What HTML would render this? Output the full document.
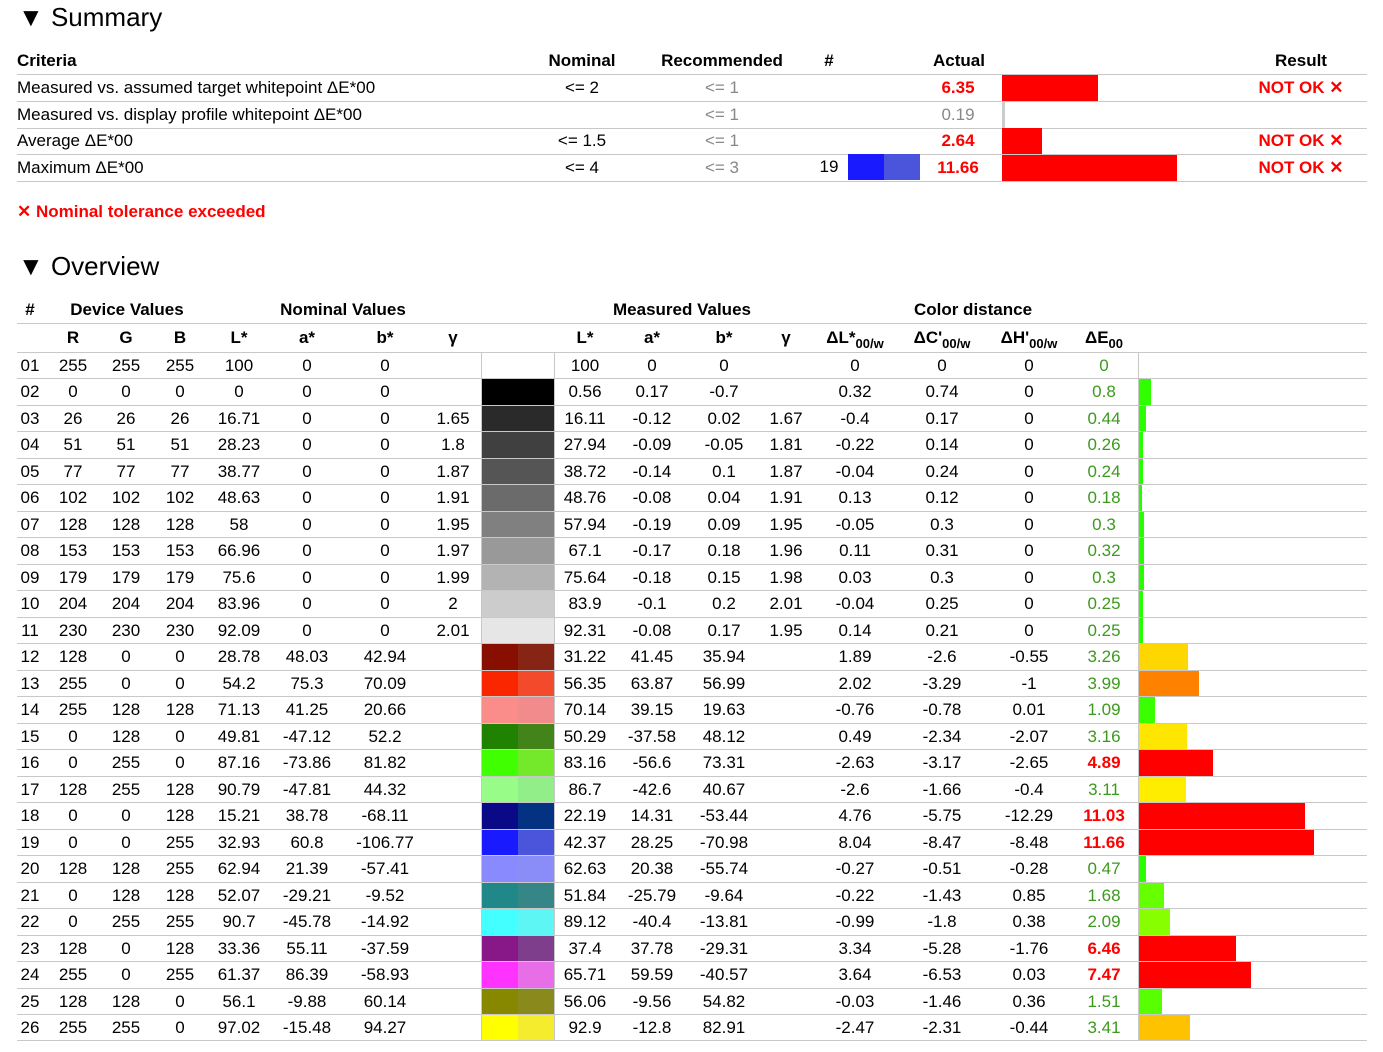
<!DOCTYPE html>
<html><head><meta charset="utf-8"><style>
body{margin:0;width:1383px;height:1052px;background:#fff;font-family:"Liberation Sans",sans-serif;color:#000;position:relative;overflow:hidden}
.t{position:absolute;font-size:17px;line-height:26px;white-space:nowrap}
.c{text-align:center;width:140px}
.b{font-weight:bold}
.ln{position:absolute;height:1px;background:#c8c8c8;left:17px;width:1350px}
.vl{position:absolute;width:1px;background:#c8c8c8}
.h{position:absolute;font-size:26px;left:18px}
sub{font-size:13px;vertical-align:-5px}
.red{color:#f00;font-weight:bold}
.gr{color:#888}
</style></head><body>
<div class="h" style="top:2px">▼ Summary</div>
<div class="h" style="top:251px">▼ Overview</div>
<div id="root"></div>
<div class="t red" style="left:17px;top:199px">✕ Nominal tolerance exceeded</div>
<script>
const critNames=["Measured vs. assumed target whitepoint ΔE*00","Measured vs. display profile whitepoint ΔE*00","Average ΔE*00","Maximum ΔE*00"];
const critNominal=["<= 2","","<= 1.5","<= 4"];
const critRecommended=["<= 1","<= 1","<= 1","<= 3"];
const critActual=[6.35,0.19,2.64,11.66];
const critFail=[true,false,true,true];
const devR=[255,0,26,51,77,102,128,153,179,204,230,128,255,255,0,0,128,0,0,128,0,0,128,255,128,255];
const devG=[255,0,26,51,77,102,128,153,179,204,230,0,0,128,128,255,255,0,0,128,128,255,0,0,128,255];
const devB=[255,0,26,51,77,102,128,153,179,204,230,0,0,128,0,0,128,128,255,255,128,255,128,255,0,0];
const nomL=[100,0,16.71,28.23,38.77,48.63,58,66.96,75.6,83.96,92.09,28.78,54.2,71.13,49.81,87.16,90.79,15.21,32.93,62.94,52.07,90.7,33.36,61.37,56.1,97.02];
const nomA=[0,0,0,0,0,0,0,0,0,0,0,48.03,75.3,41.25,-47.12,-73.86,-47.81,38.78,60.8,21.39,-29.21,-45.78,55.11,86.39,-9.88,-15.48];
const nomB=[0,0,0,0,0,0,0,0,0,0,0,42.94,70.09,20.66,52.2,81.82,44.32,-68.11,-106.77,-57.41,-9.52,-14.92,-37.59,-58.93,60.14,94.27];
const nomG=["","",1.65,1.8,1.87,1.91,1.95,1.97,1.99,2,2.01,"","","","","","","","","","","","","","",""];
const meaL=[100,0.56,16.11,27.94,38.72,48.76,57.94,67.1,75.64,83.9,92.31,31.22,56.35,70.14,50.29,83.16,86.7,22.19,42.37,62.63,51.84,89.12,37.4,65.71,56.06,92.9];
const meaA=[0,0.17,-0.12,-0.09,-0.14,-0.08,-0.19,-0.17,-0.18,-0.1,-0.08,41.45,63.87,39.15,-37.58,-56.6,-42.6,14.31,28.25,20.38,-25.79,-40.4,37.78,59.59,-9.56,-12.8];
const meaB=[0,-0.7,0.02,-0.05,0.1,0.04,0.09,0.18,0.15,0.2,0.17,35.94,56.99,19.63,48.12,73.31,40.67,-53.44,-70.98,-55.74,-9.64,-13.81,-29.31,-40.57,54.82,82.91];
const meaG=["","",1.67,1.81,1.87,1.91,1.95,1.96,1.98,2.01,1.95,"","","","","","","","","","","","","","",""];
const dL=[0,0.32,-0.4,-0.22,-0.04,0.13,-0.05,0.11,0.03,-0.04,0.14,1.89,2.02,-0.76,0.49,-2.63,-2.6,4.76,8.04,-0.27,-0.22,-0.99,3.34,3.64,-0.03,-2.47];
const dC=[0,0.74,0.17,0.14,0.24,0.12,0.3,0.31,0.3,0.25,0.21,-2.6,-3.29,-0.78,-2.34,-3.17,-1.66,-5.75,-8.47,-0.51,-1.43,-1.8,-5.28,-6.53,-1.46,-2.31];
const dH=[0,0,0,0,0,0,0,0,0,0,0,-0.55,-1,0.01,-2.07,-2.65,-0.4,-12.29,-8.48,-0.28,0.85,0.38,-1.76,0.03,0.36,-0.44];
const dE=[0,0.8,0.44,0.26,0.24,0.18,0.3,0.32,0.3,0.25,0.25,3.26,3.99,1.09,3.16,4.89,3.11,11.03,11.66,0.47,1.68,2.09,6.46,7.47,1.51,3.41];
const nomSw=["#fff","#000","#2a2a2a","#404040","#555","#6b6b6b","#808080","#999","#b3b3b3","#ccc","#e6e6e6","#880e00","#fa2600","#fa8c8a","#208200","#40ff00","#98fc88","#0a0a88","#1a1aff","#8a8aff","#208888","#44ffff","#881888","#ff33ff","#888800","#ffff00"];
const meaSw=["#fff","#000","#2a2a2a","#404040","#555","#6b6b6b","#808080","#999","#b3b3b3","#ccc","#e6e6e6","#862415","#f24a2a","#f28b8b","#42841a","#74e82a","#92ee88","#033282","#4a55dc","#8a8cf8","#368688","#5ef5f5","#7e3e8c","#e86ee8","#8a8a1c","#f4ec2c"];

const root=document.getElementById('root');
function add(cls,left,top,html,name,w){const d=document.createElement('div');d.className=cls;d.style.left=left+'px';d.style.top=top+'px';if(w)d.style.width=w+'px';d.innerHTML=html;


root.appendChild(d);return d;}
function cen(x,y,html,name,extra){return add('t c'+(extra?' '+extra:''),x-70,y-13,html,name);}
function box(x,y,w,h,bg,name){const d=document.createElement('div');d.style.cssText='position:absolute;left:'+x+'px;top:'+y+'px;width:'+w+'px;height:'+h+'px;background:'+bg;


root.appendChild(d);return d;}
function hue(v){const p=[[0,112],[1,108],[1.7,96],[2.1,88],[3.1,56],[3.4,46],[4,30]];if(v>=4)return 0;for(let i=1;i<p.length;i++){if(v<=p[i][0]){const t=(v-p[i-1][0])/(p[i][0]-p[i-1][0]);return p[i-1][1]+t*(p[i][1]-p[i-1][1]);}}return 0;}
const sc=15.05;
// summary
add('t b',17,48,'Criteria','criteria-header');
cen(582,61,'Nominal','nominal-header','b');cen(722,61,'Recommended','recommended-header','b');
cen(829,61,'#','index-header','b');cen(959,61,'Actual','actual-header','b');cen(1301,61,'Result','result-header','b');
box(17,74,1350,1,'#c8c8c8','summary-header-line');
for(let i=0;i<4;i++){const y=88+i*26.5;
 add('t',17,y-13,critNames[i],'criteria-name');
 cen(582,y,critNominal[i],'criteria-nominal');
 cen(722,y,critRecommended[i],'criteria-recommended','gr');
 cen(958,y,critActual[i].toFixed(2),'criteria-actual',critFail[i]?'red':'gr');
 const w=Math.max(3,critActual[i]*sc);box(1002,y-13,w,26,critFail[i]?'#f00':'#ccc','criteria-bar');
 if(critFail[i])cen(1301,y,'NOT OK ✕','criteria-result','red');
 box(17,y+13,1350,1,'#c8c8c8','summary-row-line');}
cen(829,167,'19','max-index');box(848,154,36,26,nomSw[18],'max-swatch-nominal');box(884,154,36,26,meaSw[18],'max-swatch-measured');
// overview headers
cen(30,310,'#','idx-header','b');cen(127,310,'Device Values','device-values-header','b');cen(343,310,'Nominal Values','nominal-values-header','b');
cen(682,310,'Measured Values','measured-values-header','b');cen(973,310,'Color distance','color-distance-header','b');
box(17,323,1350,1,'#c8c8c8','overview-header-line');
const hd=[[73,'R'],[126,'G'],[180,'B'],[239,'L*'],[307,'a*'],[385,'b*'],[453,'γ'],[585,'L*'],[652,'a*'],[724,'b*'],[786,'γ'],[855,'ΔL*<sub>00/w</sub>'],[942,'ΔC\'<sub>00/w</sub>'],[1029,'ΔH\'<sub>00/w</sub>'],[1104,'ΔE<sub>00</sub>']];
hd.forEach(h=>cen(h[0],338,h[1],'column-header','b'));
box(17,352,1350,1,'#c8c8c8','overview-subheader-line');
const rh=26.48;
for(let i=0;i<26;i++){const y=366+i*rh;const top=Math.round(352+i*rh)+1;const bot=Math.round(352+(i+1)*rh);
 cen(30,y,String(i+1).padStart(2,'0'),'row-index');
 cen(73,y,devR[i],'device-r');cen(126,y,devG[i],'device-g');cen(180,y,devB[i],'device-b');
 cen(239,y,nomL[i],'nominal-l');cen(307,y,nomA[i],'nominal-a');cen(385,y,nomB[i],'nominal-b');cen(453,y,nomG[i],'nominal-gamma');
 box(482,top,36,bot-top,nomSw[i],'swatch-nominal');box(518,top,36,bot-top,meaSw[i],'swatch-measured');
 cen(585,y,meaL[i],'measured-l');cen(652,y,meaA[i],'measured-a');cen(724,y,meaB[i],'measured-b');cen(786,y,meaG[i],'measured-gamma');
 cen(855,y,dL[i],'delta-l');cen(942,y,dC[i],'delta-c');cen(1029,y,dH[i],'delta-h');
 const bad=dE[i]>=4;const d=cen(1104,y,dE[i],'delta-e',bad?'red':'');if(!bad)d.style.color='#3c9a1e';
 if(dE[i]>0){box(1139,top,Math.max(3,dE[i]*sc),bot-top,'hsl('+hue(dE[i])+',100%,50%)','delta-e-bar');}
 box(17,bot,1350,1,'#c8c8c8','row-line');}
const vt=352,vh=Math.round(352+26*rh)-352;
[481,554,1138].forEach(x=>{const v=box(x,vt,1,vh,'#c8c8c8','column-divider');});
</script>
</body></html>
